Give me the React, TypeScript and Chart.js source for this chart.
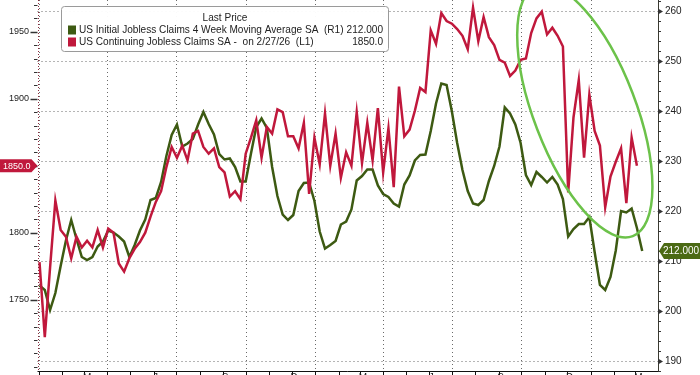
import React, { useEffect, useRef } from "react";
import { Chart, registerables } from "chart.js";

Chart.register(...registerables);

// ---- data (weekly observations, first week ~ 2 Jan 2024) ----
const FIRST_WEEK = "2024-01-02";

// US Initial Jobless Claims 4 Week Moving Average SA (thousands) - right axis
const initialClaims4wk = [
  205.1, 204.2, 200.2, 203.6, 209.0, 214.1, 218.2, 214.4, 210.8, 210.2,
  210.8, 212.9, 213.9, 216.1, 215.7, 214.9, 213.9, 210.8, 213.2, 216.1,
  218.3, 222.2, 222.6, 225.8, 231.0, 235.2, 237.3, 232.9, 233.5, 234.4,
  237.3, 239.8, 237.4, 235.3, 231.4, 230.3, 230.5, 228.8, 225.9, 225.9,
  231.5, 236.8, 238.5, 236.6, 228.8, 223.0, 219.3, 218.2, 219.2, 224.0,
  225.6, 225.7, 222.0, 215.9, 212.5, 213.2, 214.0, 217.3, 217.9, 220.3,
  226.1, 227.0, 228.3, 228.3, 225.1, 223.4, 222.8, 221.5, 220.9, 225.3,
  227.1, 230.1, 231.2, 231.3, 236.0, 241.5, 245.5, 245.2, 239.9, 233.6,
  228.2, 224.0, 221.5, 221.2, 222.2, 226.0, 229.0, 232.9, 240.7, 239.5,
  237.3, 233.6, 227.2, 225.2, 227.8, 226.8, 225.7, 226.8, 225.3, 222.4,
  214.9, 216.4, 217.4, 217.4, 218.8, 211.8, 205.2, 204.2, 206.8, 212.1,
  220.0, 219.7, 220.5, 216.6, 212.0,
];

// US Continuing Jobless Claims SA (thousands) - left axis
const continuingClaims = [
  1778, 1722, 1774, 1824, 1802, 1797, 1781, 1797, 1789, 1794,
  1789, 1802, 1789, 1803, 1800, 1777, 1771, 1781, 1788, 1793,
  1800, 1812, 1823, 1831, 1849, 1864, 1856, 1865, 1854, 1874,
  1876, 1864, 1859, 1863, 1849, 1845, 1827, 1831, 1825, 1859,
  1871, 1884, 1856, 1879, 1874, 1892, 1890, 1872, 1872, 1863,
  1882, 1829, 1871, 1851, 1889, 1850, 1874, 1841, 1860, 1850,
  1890, 1852, 1882, 1854, 1893, 1845, 1878, 1834, 1909, 1872,
  1877, 1891, 1908, 1905, 1951, 1941, 1964, 1958, 1956, 1952,
  1947, 1937, 1968, 1943, 1961, 1946, 1940, 1929, 1927, 1917,
  1921, 1929, 1930, 1949, 1960, 1965, 1948, 1953, 1947, 1939,
  1830, 1886, 1914, 1856, 1903, 1876, 1865, 1819, 1842, 1853,
  1863, 1822, 1871, 1850,
];

const leftLabelValues = [1750, 1800, 1850, 1900, 1950];
const rightLabelValues = [190, 200, 210, 220, 230, 240, 250, 260];

const quarterStarts = [
  "2024-01-01", "2024-04-01", "2024-07-01", "2024-10-01",
  "2025-01-01", "2025-04-01", "2025-07-01", "2025-10-01", "2026-01-01",
];
const labelMonths = [
  "2024-03-01", "2024-06-01", "2024-09-01", "2024-12-01",
  "2025-03-01", "2025-06-01", "2025-09-01", "2025-12-01", "2026-03-01",
];
const labelNames = ["Mar", "Jun", "Sep", "Dec", "Mar", "Jun", "Sep", "Dec", "Mar"];

const legendTitle = "Last Price";
const legendNames = [
  "US Initial Jobless Claims 4 Week Moving Average SA  (R1)",
  "US Continuing Jobless Claims SA -  on 2/27/26  (L1)",
];

const RED = "#c0183c";
const GREEN = "#3d5a12";
const ELLIPSE_GREEN = "#6cc24a";
const GRID = "#6a6a6a";
const FONT = '"Liberation Sans", Arial, sans-serif';

const dayOf = (s: string) => {
  const [y, m, d] = s.split("-").map(Number);
  return (Date.UTC(y, m - 1, d) - Date.UTC(2024, 0, 1)) / 86400000;
};
const firstDay = dayOf(FIRST_WEEK);
const weekDay = (i: number) => firstDay + 7 * i;

const monthStarts: number[] = [];
for (let y = 2024; y <= 2026; y++) {
  for (let m = 1; m <= 12; m++) {
    monthStarts.push(dayOf(`${y}-${String(m).padStart(2, "0")}-01`));
  }
}

const X_MIN = -1.65;
const X_MAX = 819.9;

const near = (v: number, list: number[]) => list.some((t) => Math.abs(t - v) < 1e-6);
const isMult = (v: number, m: number) => Math.abs(v / m - Math.round(v / m)) < 1e-6;

const overlayPlugin = {
  id: "overlay",
  beforeDatasetsDraw(chart: any) {
    // dotted grid lines
    const { ctx, chartArea, scales } = chart;
    const { left: L, right: R, top: T, bottom: B } = chartArea;
    ctx.save();
    ctx.strokeStyle = GRID;
    ctx.lineWidth = 1;
    ctx.setLineDash([1, 3]);
    for (const v of rightLabelValues) {
      const y = Math.round(scales.y.getPixelForValue(v)) + 0.5;
      ctx.beginPath();
      ctx.moveTo(L, y);
      ctx.lineTo(R, y);
      ctx.stroke();
    }
    for (const d of quarterStarts) {
      const x = Math.round(scales.x.getPixelForValue(dayOf(d))) + 0.5;
      ctx.beginPath();
      ctx.moveTo(x, T);
      ctx.lineTo(x, B);
      ctx.stroke();
    }
    ctx.restore();
  },
  afterDatasetsDraw(chart: any) {
    const { ctx, chartArea, scales } = chart;
    const cx = scales.x.getPixelForValue(723);
    const cy = scales.y.getPixelForValue(240);
    ctx.save();
    ctx.beginPath();
    ctx.rect(chartArea.left, chartArea.top, chartArea.right - chartArea.left, chartArea.bottom - chartArea.top);
    ctx.clip();
    ctx.strokeStyle = ELLIPSE_GREEN;
    ctx.lineWidth = 2.5;
    ctx.beginPath();
    ctx.ellipse(cx, cy, 134, 51, (69 * Math.PI) / 180, 0, Math.PI * 2);
    ctx.stroke();
    ctx.restore();
  },
  afterDraw(chart: any) {
    const { ctx, chartArea, scales } = chart;
    const L = chartArea.left, R = chartArea.right, B = chartArea.bottom, T = chartArea.top;
    ctx.save();

    // left axis: dotted maroon line + ticks
    ctx.strokeStyle = "#8c2a3c";
    ctx.lineWidth = 1;
    ctx.setLineDash([1, 2]);
    ctx.beginPath();
    ctx.moveTo(Math.round(L) + 0.5, T);
    ctx.lineTo(Math.round(L) + 0.5, B);
    ctx.stroke();
    ctx.setLineDash([]);
    ctx.strokeStyle = "#333";
    for (const t of scales.yL.ticks) {
      const y = Math.round(scales.yL.getPixelForValue(t.value)) + 0.5;
      const major = near(t.value, leftLabelValues);
      ctx.lineWidth = major ? 1.5 : 1;
      ctx.beginPath();
      ctx.moveTo(major ? L - 7 : L - 3.5, y);
      ctx.lineTo(L, y);
      ctx.stroke();
    }

    // right axis border + ticks
    ctx.strokeStyle = "#3a3a30";
    ctx.lineWidth = 1;
    ctx.beginPath();
    ctx.moveTo(Math.round(R) + 0.5, T);
    ctx.lineTo(Math.round(R) + 0.5, B);
    ctx.stroke();
    ctx.fillStyle = "#333";
    ctx.strokeStyle = "#333";
    for (const t of scales.y.ticks) {
      const y = Math.round(scales.y.getPixelForValue(t.value)) + 0.5;
      if (near(t.value, rightLabelValues)) {
        ctx.beginPath();
        ctx.moveTo(R, y - 3);
        ctx.lineTo(R + 5, y);
        ctx.lineTo(R, y + 3);
        ctx.closePath();
        ctx.fill();
      } else {
        ctx.lineWidth = 1;
        ctx.beginPath();
        ctx.moveTo(R, y);
        ctx.lineTo(R + 3, y);
        ctx.stroke();
      }
    }

    // bottom axis line, month ticks + labels
    ctx.strokeStyle = "#111";
    ctx.lineWidth = 1;
    ctx.beginPath();
    ctx.moveTo(L, Math.round(B) + 0.5);
    ctx.lineTo(R, Math.round(B) + 0.5);
    ctx.stroke();
    for (const d of monthStarts) {
      if (d < X_MIN || d > X_MAX) continue;
      const x = Math.round(scales.x.getPixelForValue(d)) + 0.5;
      ctx.beginPath();
      ctx.moveTo(x, B);
      ctx.lineTo(x, B + 4);
      ctx.stroke();
    }
    ctx.fillStyle = "#222";
    ctx.font = `10px ${FONT}`;
    ctx.textAlign = "center";
    ctx.textBaseline = "top";
    labelMonths.forEach((m, k) => {
      const x = scales.x.getPixelForValue(dayOf(m) + 10);
      ctx.fillText(labelNames[k], x, B + 2);
    });

    // last value tags
    const redLast = continuingClaims[continuingClaims.length - 1];
    const greenLast = initialClaims4wk[initialClaims4wk.length - 1];
    const ry = scales.yL.getPixelForValue(redLast);
    ctx.fillStyle = RED;
    ctx.beginPath();
    ctx.moveTo(0, ry - 6.5);
    ctx.lineTo(L - 6, ry - 6.5);
    ctx.lineTo(L, ry);
    ctx.lineTo(L - 6, ry + 6.5);
    ctx.lineTo(0, ry + 6.5);
    ctx.closePath();
    ctx.fill();
    ctx.fillStyle = "#fff";
    ctx.font = `9px ${FONT}`;
    ctx.textAlign = "center";
    ctx.textBaseline = "middle";
    ctx.fillText(redLast.toFixed(1), (L - 6) / 2 + 1, ry + 0.5);

    const gy = scales.y.getPixelForValue(greenLast);
    ctx.fillStyle = "#4b6a14";
    ctx.beginPath();
    ctx.moveTo(R + 1, gy);
    ctx.lineTo(R + 6, gy - 8);
    ctx.lineTo(chart.width, gy - 8);
    ctx.lineTo(chart.width, gy + 8);
    ctx.lineTo(R + 6, gy + 8);
    ctx.closePath();
    ctx.fill();
    ctx.fillStyle = "#fff";
    ctx.font = `10px ${FONT}`;
    ctx.textAlign = "left";
    ctx.fillText(greenLast.toFixed(3), R + 5, gy + 0.5);

    // legend box
    const bx = 61.5, by = 6.5, bw = 327, bh = 45;
    ctx.fillStyle = "rgba(255,255,255,0.97)";
    ctx.strokeStyle = "#9a9a9a";
    ctx.lineWidth = 1;
    ctx.beginPath();
    (ctx as any).roundRect(bx, by, bw, bh, 3);
    ctx.fill();
    ctx.stroke();

    ctx.font = `10px ${FONT}`;
    const w0 = ctx.measureText(legendNames[0]).width;
    const fs = (10 * 265) / w0;
    ctx.fillStyle = "#222";
    ctx.textBaseline = "middle";
    ctx.textAlign = "center";
    ctx.font = `${fs.toFixed(2)}px ${FONT}`;
    ctx.fillText(legendTitle, 225, 18.5);
    const rows = [
      { color: GREEN, name: legendNames[0], value: greenLast.toFixed(3), y: 30 },
      { color: RED, name: legendNames[1], value: redLast.toFixed(1), y: 42 },
    ];
    for (const r of rows) {
      ctx.fillStyle = r.color;
      ctx.fillRect(68, r.y - 4.5, 8, 9);
      ctx.fillStyle = "#222";
      ctx.textAlign = "left";
      ctx.fillText(r.name, 79, r.y + 0.5);
      ctx.textAlign = "right";
      ctx.fillText(r.value, 383, r.y + 0.5);
    }
    ctx.restore();
  },
};

export default function App() {
  const ref = useRef<HTMLCanvasElement>(null);
  useEffect(() => {
    if (!ref.current) return;
    const chart = new Chart(ref.current, {
      type: "line",
      data: {
        datasets: [
          {
            label: legendNames[1],
            data: continuingClaims.map((v, i) => ({ x: weekDay(i), y: v })),
            borderColor: RED,
            borderWidth: 2.5,
            pointRadius: 0,
            tension: 0,
            yAxisID: "yL",
          },
          {
            label: legendNames[0],
            data: initialClaims4wk.map((v, i) => ({ x: weekDay(i), y: v })),
            borderColor: GREEN,
            borderWidth: 2.5,
            pointRadius: 0,
            tension: 0,
            yAxisID: "y",
          },
        ],
      },
      options: {
        animation: false,
        responsive: true,
        maintainAspectRatio: false,
        layout: { padding: 0 },
        plugins: { legend: { display: false }, tooltip: { enabled: false } },
        scales: {
          x: {
            type: "linear",
            min: X_MIN,
            max: X_MAX,
            afterFit: (s: any) => {
              s.height = 4;
              s.paddingLeft = 0;
              s.paddingRight = 0;
            },
            ticks: { display: false },
            grid: { display: false },
            border: { display: false },
          },
          y: {
            type: "linear",
            position: "right",
            min: 188.0,
            max: 262.2,
            afterFit: (s: any) => {
              s.width = 42;
              s.paddingTop = 0;
              s.paddingBottom = 0;
            },
            ticks: {
              stepSize: 2,
              includeBounds: false,
              autoSkip: false,
              padding: 7,
              color: "#222",
              font: { family: FONT, size: 10 },
              callback: (v: any) => (near(Number(v), rightLabelValues) ? String(Math.round(Number(v))) : ""),
            },
            grid: { display: false, drawTicks: false },
            border: { display: false },
          },
          yL: {
            type: "linear",
            position: "left",
            min: 1696.8,
            max: 1973.7,
            afterFit: (s: any) => {
              s.width = 37.5;
              s.paddingTop = 0;
              s.paddingBottom = 0;
            },
            ticks: {
              stepSize: 10,
              includeBounds: false,
              autoSkip: false,
              padding: 8.5,
              color: "#222",
              font: { family: FONT, size: 9 },
              callback: (v: any) => (near(Number(v), leftLabelValues) ? String(Math.round(Number(v))) : ""),
            },
            grid: { display: false, drawTicks: false },
            border: { display: false },
          },
        },
      },
      plugins: [overlayPlugin],
    } as any);
    return () => chart.destroy();
  }, []);
  return (
    <div style={{ position: "fixed", left: 0, top: 0, width: 700, height: 375, background: "#fff" }}>
      <canvas ref={ref} />
    </div>
  );
}
